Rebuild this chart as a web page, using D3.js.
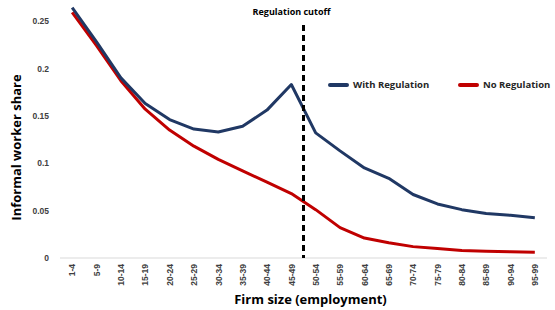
<!doctype html>
<html lang="en">
<head>
<meta charset="utf-8">
<title>Informal worker share</title>
<style>
  body { margin: 0; background: #fff; }
  svg { font-family: "Open Sans", "Liberation Sans", sans-serif; }
  .tick text { fill: #404040; font-size: 8.5px; font-weight: 600; }
</style>
</head>
<body>
<div id="chart"></div>
<script src="https://cdn.jsdelivr.net/npm/d3@7"></script>
<script>
var categories = ["1-4", "5-9", "10-14", "15-19", "20-24", "25-29", "30-34", "35-39", "40-44", "45-49",
  "50-54", "55-59", "60-64", "65-69", "70-74", "75-79", "80-84", "85-89", "90-94", "95-99"];
var withRegulation = [0.264, 0.228, 0.190, 0.163, 0.146, 0.136, 0.133, 0.139, 0.156, 0.183,
  0.132, 0.113, 0.095, 0.084, 0.067, 0.057, 0.051, 0.047, 0.045, 0.0425];
var noRegulation = [0.259, 0.224, 0.187, 0.157, 0.135, 0.118, 0.104, 0.092, 0.080, 0.068,
  0.051, 0.032, 0.021, 0.016, 0.012, 0.010, 0.008, 0.007, 0.0065, 0.006];
var yTicks = [0, 0.05, 0.1, 0.15, 0.2, 0.25];
var cutoffAfter = "45-49";

var width = 555, height = 310;
var margin = { top: 21, right: 8, bottom: 52, left: 60 };

var svg = d3.select("#chart").append("svg")
  .attr("width", width)
  .attr("height", height);

var x = d3.scalePoint()
  .domain(categories)
  .range([margin.left, width - margin.right])
  .padding(0.5);

var y = d3.scaleLinear()
  .domain([0, 0.25])
  .range([258, 21]);

// y axis, labels only
var yAxis = svg.append("g")
  .attr("transform", "translate(" + (margin.left - 8) + ",0)")
  .call(d3.axisLeft(y).tickValues(yTicks).tickSize(0).tickFormat(function (d) { return d === 0 ? "0" : d3.format("")(d); }));
yAxis.select(".domain").remove();

// x axis
var xAxis = svg.append("g")
  .attr("transform", "translate(0," + y(0) + ")")
  .call(d3.axisBottom(x).tickSize(0));
xAxis.select(".domain").attr("stroke", "#d9d9d9").attr("stroke-width", 1)
  .attr("d", "M" + margin.left + ",0H" + (width - margin.right));
xAxis.selectAll("text")
  .attr("transform", "rotate(-90)")
  .attr("text-anchor", "end")
  .attr("x", -6)
  .attr("y", 0)
  .attr("dy", "0.32em");

// titles
svg.append("text")
  .attr("transform", "translate(21," + ((y(0) + y(0.25)) / 2 + 8) + ") rotate(-90)")
  .attr("text-anchor", "middle")
  .style("font-size", "13px").style("font-weight", "700").style("fill", "#000")
  .text("Informal worker share");

svg.append("text")
  .attr("x", (x(categories[0]) + x(categories[categories.length - 1])) / 2 + 7)
  .attr("y", 304)
  .attr("text-anchor", "middle")
  .style("font-size", "13px").style("font-weight", "700").style("fill", "#000")
  .text("Firm size (employment)");

// lines
var line = d3.line()
  .x(function (d, i) { return x(categories[i]); })
  .y(function (d) { return y(d); });

svg.append("path").datum(noRegulation)
  .attr("fill", "none").attr("stroke", "#c00000").attr("stroke-width", 3)
  .attr("stroke-linejoin", "round").attr("d", line);

svg.append("path").datum(withRegulation)
  .attr("fill", "none").attr("stroke", "#203864").attr("stroke-width", 3)
  .attr("stroke-linejoin", "round").attr("d", line);

// cutoff
var ci = categories.indexOf(cutoffAfter);
var cx = (x(categories[ci]) + x(categories[ci + 1])) / 2;
svg.append("line")
  .attr("x1", cx).attr("x2", cx)
  .attr("y1", 25).attr("y2", y(0))
  .attr("stroke", "#000").attr("stroke-width", 3)
  .attr("stroke-dasharray", "6,4");
svg.append("text")
  .attr("x", cx - 12).attr("y", 15)
  .attr("text-anchor", "middle")
  .style("font-size", "9px").style("font-weight", "700").style("fill", "#000")
  .text("Regulation cutoff");

// legend
var legend = [
  { name: "With Regulation", color: "#203864", x: 330 },
  { name: "No Regulation", color: "#c00000", x: 460 }
];
var lg = svg.append("g").selectAll("g").data(legend).enter().append("g")
  .attr("transform", function (d) { return "translate(" + d.x + ",85)"; });
lg.append("line")
  .attr("x1", 0).attr("x2", 17).attr("y1", 0).attr("y2", 0)
  .attr("stroke", function (d) { return d.color; })
  .attr("stroke-width", 4).attr("stroke-linecap", "round");
lg.append("text")
  .attr("x", 23).attr("y", 0).attr("dy", "0.35em")
  .style("font-size", "9.5px").style("font-weight", "700").style("fill", "#262626")
  .text(function (d) { return d.name; });
</script>
</body>
</html>
